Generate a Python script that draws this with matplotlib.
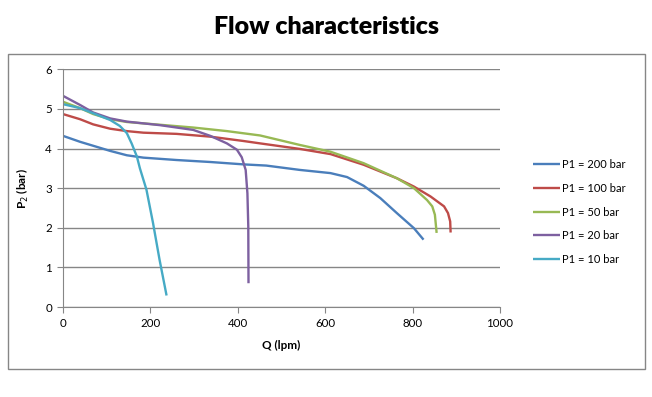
import matplotlib.pyplot as plt
from matplotlib.patches import Rectangle

# ====== DATA ======
q_200 = [0, 39, 69, 108, 146, 184, 260, 337, 413, 465, 542, 612, 650, 688, 726, 764, 803, 825]
p_200 = [4.32, 4.17, 4.07, 3.94, 3.83, 3.77, 3.71, 3.66, 3.60, 3.57, 3.46, 3.38, 3.28, 3.06, 2.75, 2.37, 1.99, 1.70]

q_100 = [0, 39, 69, 108, 146, 184, 260, 337, 413, 451, 542, 612, 688, 764, 803, 841, 872, 881, 886, 887]
p_100 = [4.87, 4.74, 4.61, 4.50, 4.44, 4.40, 4.37, 4.30, 4.19, 4.13, 3.99, 3.86, 3.59, 3.25, 3.04, 2.79, 2.54, 2.37, 2.16, 1.88]

q_50 = [0, 39, 69, 108, 146, 222, 298, 375, 451, 542, 612, 688, 764, 803, 833, 845, 851, 855]
p_50 = [5.18, 5.02, 4.87, 4.74, 4.67, 4.60, 4.53, 4.44, 4.33, 4.09, 3.92, 3.63, 3.25, 3.00, 2.70, 2.54, 2.33, 1.87]

q_20 = [0, 39, 69, 108, 146, 222, 298, 337, 375, 398, 409, 418, 422, 424, 424.5]
p_20 = [5.33, 5.10, 4.91, 4.76, 4.68, 4.59, 4.47, 4.32, 4.13, 3.97, 3.78, 3.46, 2.87, 2.03, 0.60]

q_10 = [0, 39, 69, 108, 130, 146, 157, 169, 176, 191, 206, 221, 237]
p_10 = [5.12, 5.02, 4.89, 4.72, 4.57, 4.39, 4.13, 3.80, 3.50, 2.96, 2.12, 1.19, 0.29]

series = [
    ("P1 = 200 bar", q_200, p_200, "#4A7EBB"),
    ("P1 = 100 bar", q_100, p_100, "#BE4B48"),
    ("P1 = 50 bar", q_50, p_50, "#98B954"),
    ("P1 = 20 bar", q_20, p_20, "#7D60A0"),
    ("P1 = 10 bar", q_10, p_10, "#46AAC5"),
]

GRAY = "#868686"
W, H = 652, 397

plt.rcParams["font.family"] = ["Lato", "DejaVu Sans"]

fig = plt.figure(figsize=(W / 100, H / 100), dpi=100)
fig.patches.append(Rectangle((8 / W, 1 - 369 / H), (645 - 8) / W, (369 - 54) / H,
                             transform=fig.transFigure, fill=False,
                             edgecolor=GRAY, linewidth=1))

ax = fig.add_axes([63 / W, 1 - 307 / H, (500 - 63) / W, (307 - 69.3) / H])

for label, q, p, color in series:
    ax.plot(q, p, color=color, linewidth=1.7, label=label,
            solid_joinstyle="round", solid_capstyle="butt")

ax.set_xlim(0, 1000)
ax.set_ylim(0, 6)
ax.set_xticks(range(0, 1001, 200))
ax.set_yticks(range(0, 7))
ax.yaxis.grid(True, color=GRAY, linewidth=1)
ax.set_axisbelow(True)
for s in ["top", "right"]:
    ax.spines[s].set_visible(False)
for s in ["left", "bottom"]:
    ax.spines[s].set_color(GRAY)
ax.tick_params(direction="out", length=4, color=GRAY, labelsize=8.3, pad=4)

ax.set_xlabel("Q (lpm)", fontsize=8.5, fontweight="bold", labelpad=8)
ax.set_ylabel("P$_2$ (bar)", fontsize=8.5, fontweight="bold", labelpad=10)

fig.text(327 / W, 1 - 27 / H, "Flow characteristics", ha="center", va="center",
         fontsize=18, fontweight="heavy")

ax.legend(loc="center left", bbox_to_anchor=(533 / W, 1 - 212 / H),
          bbox_transform=fig.transFigure, frameon=False, fontsize=8,
          handlelength=2.4, handletextpad=0.2, labelspacing=1.15,
          borderpad=0, borderaxespad=0)

plt.savefig("out.png", dpi=100)
